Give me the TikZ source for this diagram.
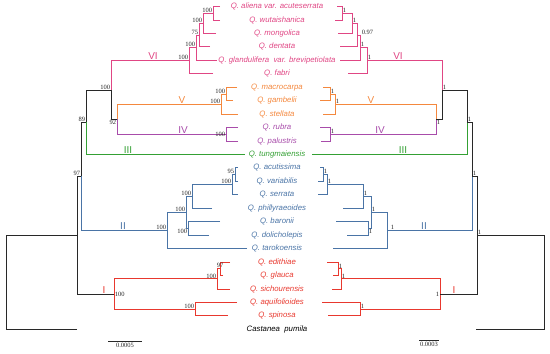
\documentclass[tikz,border=0pt]{standalone}
\usepackage{fontspec}
\setmainfont{Liberation Serif}
\setsansfont{Liberation Sans}
\usetikzlibrary{positioning}

\definecolor{cVI}{RGB}{224,70,132}
\definecolor{cV}{RGB}{244,136,62}
\definecolor{cIV}{RGB}{168,76,170}
\definecolor{cIII}{RGB}{52,160,52}
\definecolor{cII}{RGB}{74,116,166}
\definecolor{cI}{RGB}{232,56,46}
\definecolor{cK}{RGB}{40,40,40}

% support value at an inner node
\newcommand{\bsv}[3]{\node[bs,#1] (s#2) at (#2) {#3};}

\begin{document}
\begin{tikzpicture}[x=1pt, y=-1pt,
    taxon/.style={font=\sffamily\itshape\fontsize{7.8}{9}\selectfont, inner sep=0pt},
    bs/.style={font=\fontsize{6.5}{7}\selectfont, inner sep=0.6pt, text=black!85},
    clade/.style={font=\sffamily\fontsize{10}{11}\selectfont, inner sep=0.8pt, anchor=south},
    br/.style={line width=0.9pt},
    lnK/.style={br, draw=cK},
    lnVI/.style={br, draw=cVI},
    lnV/.style={br, draw=cV},
    lnIV/.style={br, draw=cIV},
    lnIII/.style={br, draw=cIII},
    lnII/.style={br, draw=cII},
    lnI/.style={br, draw=cI}
]
    \useasboundingbox (0,0) rectangle (550,354);

    % taxa, in the middle
    \foreach \i/\c/\name in {0/cVI/Q. aliena var. acuteserrata, 1/cVI/Q. wutaishanica,
        2/cVI/Q. mongolica, 3/cVI/Q. dentata, 4/cVI/Q. glandulifera\ \ var. brevipetiolata,
        5/cVI/Q. fabri, 6/cV/Q. macrocarpa, 7/cV/Q. gambelii, 8/cV/Q. stellata,
        9/cIV/Q. rubra, 10/cIV/Q. palustris, 11/cIII/Q. tungmaiensis,
        12/cII/Q. acutissima, 13/cII/Q. variabilis, 14/cII/Q. serrata,
        15/cII/Q. phillyraeoides, 16/cII/Q. baronii, 17/cII/Q. dolicholepis,
        18/cII/Q. tarokoensis, 19/cI/Q. edithiae, 20/cI/Q. glauca,
        21/cI/Q. sichourensis, 22/cI/Q. aquifolioides, 23/cI/Q. spinosa,
        24/black/Castanea\ \ pumila}
        \node[taxon, text=\c] (t\i) at (277, 6.5+13.45*\i) {\name};

    % branch tips, left (ML) and right (BI)
    \foreach \i/\lx/\rx in {0/220/337, 1/220/335, 2/216/338, 3/210/340, 4/217/340,
        5/213/348, 6/237/323, 7/233/320, 8/238/323, 9/238/320, 10/238/321,
        11/245/312, 12/238/320, 13/238/318, 14/238/318, 15/212/343, 16/220/336,
        17/209/347, 18/247/333, 19/230/327, 20/223/333, 21/230/332, 22/237/322,
        23/228/328, 24/77/476}
    {
        \coordinate (L\i) at (\lx,0 |- t\i);
        \coordinate (R\i) at (\rx,0 |- t\i);
    }

    % inner nodes, left tree
    \coordinate (lA) at (213,13.2);
    \coordinate (lB) at (203,23.3);
    \coordinate (lC) at (199,35);
    \coordinate (lD) at (196,47.7);
    \coordinate (lE) at (189,60.7);
    \coordinate (lF) at (226,94);
    \coordinate (lG) at (221,104);
    \coordinate (lH) at (226,134.3);
    \coordinate (lVIV) at (117,119.2);
    \coordinate (lUp) at (111,90);
    \coordinate (lIII) at (86,122.2);
    \coordinate (lAc) at (235,174.6);
    \coordinate (lSe) at (232,184.7);
    \coordinate (lPh) at (192,196.5);
    \coordinate (lBa) at (188,228.5);
    \coordinate (lL) at (186,212.5);
    \coordinate (lM) at (167,230.5);
    \coordinate (lII) at (81,176.4);
    \coordinate (lEd) at (220,268.8);
    \coordinate (lSi) at (217,278.9);
    \coordinate (lAq) at (195,309.1);
    \coordinate (lI) at (114,294);
    \coordinate (lIn) at (77,235.2);
    \coordinate (lRoot) at (6,282.3);

    % inner nodes, right tree
    \coordinate (rA) at (342,13.2);
    \coordinate (rB) at (352,23.3);
    \coordinate (rC) at (357,35);
    \coordinate (rD) at (360,47.7);
    \coordinate (rE) at (367,60.7);
    \coordinate (rF) at (330,94);
    \coordinate (rG) at (335,104);
    \coordinate (rH) at (330,134.3);
    \coordinate (rVIV) at (436,119.2);
    \coordinate (rUp) at (442,90);
    \coordinate (rIII) at (467,122.2);
    \coordinate (rAc) at (323,174.6);
    \coordinate (rSe) at (327,184.7);
    \coordinate (rPh) at (363,196.5);
    \coordinate (rBa) at (368,228.5);
    \coordinate (rL) at (371,212.5);
    \coordinate (rM) at (387,230.5);
    \coordinate (rII) at (472,176.4);
    \coordinate (rEd) at (338,268.8);
    \coordinate (rSi) at (341,278.9);
    \coordinate (rAq) at (360,309.1);
    \coordinate (rI) at (440,294);
    \coordinate (rIn) at (477,235.2);
    \coordinate (rRoot) at (544,282.3);

    % branches, both trees
    \foreach \s/\t in {l/L, r/R}{
        \draw[lnVI] (\t0) -| (\s A) (\t1) -| (\s A) (\s A) -| (\s B) (\t2) -| (\s B)
            (\s B) -| (\s C) (\t3) -| (\s C) (\s C) -| (\s D) (\t4) -| (\s D)
            (\s D) -| (\s E) (\t5) -| (\s E) (\s E) -| (\s Up);
        \draw[lnV] (\t6) -| (\s F) (\t7) -| (\s F) (\s F) -| (\s G) (\t8) -| (\s G)
            (\s G) -| (\s VIV);
        \draw[lnIV] (\t9) -| (\s H) (\t10) -| (\s H) (\s H) -| (\s VIV);
        \draw[lnIII] (\t11) -| (\s III);
        \draw[lnII] (\t12) -| (\s Ac) (\t13) -| (\s Ac) (\s Ac) -| (\s Se) (\t14) -| (\s Se)
            (\s Se) -| (\s Ph) (\t15) -| (\s Ph) (\t16) -| (\s Ba) (\t17) -| (\s Ba)
            (\s Ph) -| (\s L) (\s Ba) -| (\s L) (\s L) -| (\s M) (\t18) -| (\s M)
            (\s M) -| (\s II);
        \draw[lnI] (\t19) -| (\s Ed) (\t20) -| (\s Ed) (\s Ed) -| (\s Si) (\t21) -| (\s Si)
            (\t22) -| (\s Aq) (\t23) -| (\s Aq) (\s Si) -| (\s I) (\s Aq) -| (\s I);
        \draw[lnK] (\s VIV) -| (\s Up) (\s Up) -| (\s III) (\s III) -| (\s II)
            (\s II) -| (\s In) (\s I) -| (\s In) (\s In) -| (\s Root) (\t24) -| (\s Root);
    }

    % bootstrap values (ML)
    \bsv{above left}{lA}{100}
    \bsv{above left}{lB}{100}
    \bsv{above left}{lC}{75}
    \bsv{above left}{lD}{100}
    \bsv{above left}{lE}{100}
    \bsv{above left}{lF}{100}
    \bsv{above left}{lG}{100}
    \bsv{left}{lH}{100}
    \bsv{below left}{lVIV}{92}
    \bsv{above left}{lUp}{100}
    \bsv{above left}{lIII}{89}
    \bsv{above left}{lII}{97}
    \bsv{above left}{lAc}{95}
    \bsv{above left}{lSe}{100}
    \bsv{above left}{lPh}{100}
    \bsv{below left}{lBa}{100}
    \bsv{above left}{lL}{100}
    \bsv{above left}{lM}{100}
    \bsv{above}{lEd}{97}
    \bsv{above left}{lSi}{100}
    \bsv{above left}{lAq}{100}
    \bsv{right}{lI}{100}

    % posterior probabilities (BI)
    \bsv{above right}{rA}{1}
    \bsv{above right}{rB}{1}
    \bsv{above right=0pt and 4pt}{rC}{0.97}
    \bsv{above right}{rD}{1}
    \bsv{above right}{rE}{1}
    \bsv{above right}{rF}{1}
    \bsv{above right}{rG}{1}
    \bsv{above right}{rH}{1}
    \bsv{below right}{rVIV}{1}
    \bsv{above right}{rUp}{1}
    \bsv{above right}{rIII}{1}
    \bsv{above right}{rII}{1}
    \bsv{above right}{rAc}{1}
    \bsv{above right}{rSe}{1}
    \bsv{above right}{rPh}{1}
    \bsv{below right}{rBa}{1}
    \bsv{above right}{rL}{1}
    \bsv{above right=0pt and 3pt}{rM}{1}
    \bsv{above right}{rEd}{1}
    \bsv{above right}{rSi}{1}
    \bsv{above right}{rAq}{1}
    \bsv{left}{rI}{1}
    \bsv{above right}{rIn}{1}

    % clade names
    \node[clade, text=cVI] (cl6a) at (153,60.7) {VI};
    \node[clade, text=cV] (cl5a) at (182,104) {V};
    \node[clade, text=cIV] (cl4a) at (183,134.3) {IV};
    \node[clade, text=cIII] (cl3a) at (128,154.5) {III};
    \node[clade, text=cII] (cl2a) at (123,230.5) {II};
    \node[clade, text=cI] (cl1a) at (104,294) {I};
    \node[clade, text=cVI] (cl6b) at (398,60.7) {VI};
    \node[clade, text=cV] (cl5b) at (371,104) {V};
    \node[clade, text=cIV] (cl4b) at (380,134.3) {IV};
    \node[clade, text=cIII] (cl3b) at (403,154.5) {III};
    \node[clade, text=cII] (cl2b) at (424,230.5) {II};
    \node[clade, text=cI] (cl1b) at (454,294) {I};

    % scale bars
    \coordinate (sbLa) at (108,341);
    \coordinate (sbLb) at (142,341);
    \coordinate (sbRa) at (419,340);
    \coordinate (sbRb) at (439,340);
    \draw[lnK] (sbLa) -- node[bs, below=1.5pt] (sbLt) {0.0005} (sbLb);
    \draw[lnK] (sbRa) -- node[bs, below=1.5pt] (sbRt) {0.0003} (sbRb);
\end{tikzpicture}
\end{document}
